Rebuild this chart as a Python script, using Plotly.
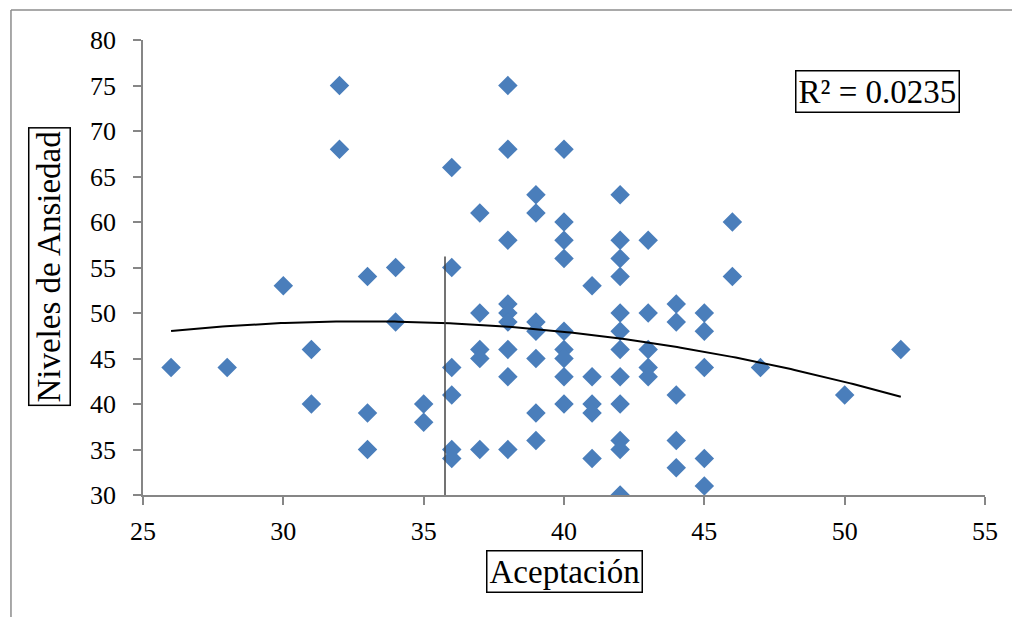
import numpy as np
import plotly.graph_objects as go

# Data
aceptacion = [26, 28, 30, 31, 31, 32, 32, 33, 33, 33, 34, 34, 35, 35,
              36, 36, 36, 36, 36, 36,
              37, 37, 37, 37, 37,
              38, 38, 38, 38, 38, 38, 38, 38, 38,
              39, 39, 39, 39, 39, 39, 39,
              40, 40, 40, 40, 40, 40, 40, 40, 40,
              41, 41, 41, 41, 41,
              42, 42, 42, 42, 42, 42, 42, 42, 42, 42, 42, 42,
              43, 43, 43, 43, 43,
              44, 44, 44, 44, 44,
              45, 45, 45, 45, 45,
              46, 46, 47, 50, 52]
ansiedad = [44, 44, 53, 46, 40, 75, 68, 54, 39, 35, 55, 49, 40, 38,
            66, 55, 44, 41, 35, 34,
            61, 50, 46, 45, 35,
            75, 68, 58, 51, 50, 49, 46, 43, 35,
            63, 61, 49, 48, 45, 39, 36,
            68, 60, 58, 56, 48, 46, 45, 43, 40,
            53, 43, 40, 39, 34,
            63, 58, 56, 54, 50, 48, 46, 43, 40, 36, 35, 30,
            58, 50, 46, 44, 43,
            51, 49, 41, 36, 33,
            50, 48, 44, 34, 31,
            60, 54, 44, 41, 46]

r2_text = "R² = 0.0235"
x_title = "Aceptación"
y_title = "Niveles de Ansiedad"
x_ticks = [25, 30, 35, 40, 45, 50, 55]
y_ticks = [30, 35, 40, 45, 50, 55, 60, 65, 70, 75, 80]

# stray vertical line in the reference
vline_x = 35.76
vline_y = [30, 56.2]

# polynomial (order 2) trendline fitted on the data
coef = np.polyfit(aceptacion, ansiedad, 2)
tx = np.linspace(min(aceptacion), max(aceptacion), 200)
ty = np.polyval(coef, tx)

FONT = "Liberation Serif"
AXIS_COLOR = "#868686"

fig = go.Figure()
fig.add_trace(go.Scatter(
    x=aceptacion, y=ansiedad, mode="markers",
    marker=dict(symbol="diamond", size=15, color="#4A7EBB",
                line=dict(width=0)),
    showlegend=False, hoverinfo="x+y"))
fig.add_trace(go.Scatter(
    x=tx, y=ty, mode="lines",
    line=dict(color="black", width=2),
    showlegend=False, hoverinfo="skip"))
fig.add_trace(go.Scatter(
    x=[vline_x, vline_x], y=vline_y, mode="lines",
    line=dict(color="#444444", width=1.5),
    showlegend=False, hoverinfo="skip"))

fig.update_layout(
    width=1020, height=617,
    margin=dict(l=135, r=43, t=32, b=130),
    paper_bgcolor="white", plot_bgcolor="white",
    font=dict(family=FONT, color="black"),
    xaxis=dict(range=[25, 55], tickvals=x_ticks, showgrid=False,
               zeroline=False, showline=True, linecolor=AXIS_COLOR,
               linewidth=1.5, ticks="outside", ticklen=8, tickwidth=1.5,
               tickcolor=AXIS_COLOR, tickfont=dict(size=26, family=FONT),
               ticklabelstandoff=4),
    yaxis=dict(range=[30, 80], tickvals=y_ticks, showgrid=False,
               zeroline=False, showline=True, linecolor=AXIS_COLOR,
               linewidth=1.5, ticks="outside", ticklen=8, tickwidth=1.5,
               tickcolor=AXIS_COLOR, tickfont=dict(size=26, family=FONT),
               ticklabelstandoff=12),
    annotations=[
        dict(text=r2_text, xref="paper", yref="paper", x=0.872, y=0.886,
             showarrow=False, font=dict(size=33, family=FONT),
             bordercolor="black", borderwidth=1.5, borderpad=2,
             xanchor="center", yanchor="middle"),
        dict(text=x_title, xref="paper", yref="paper", x=0.5, y=-0.169,
             showarrow=False, font=dict(size=33, family=FONT),
             bordercolor="black", borderwidth=1.5, borderpad=2,
             xanchor="center", yanchor="middle"),
        dict(text=y_title, xref="paper", yref="paper", x=-0.1116, y=0.501,
             showarrow=False, textangle=-90, font=dict(size=33, family=FONT),
             bordercolor="black", borderwidth=1.5, borderpad=2,
             xanchor="center", yanchor="middle"),
    ],
    shapes=[
        dict(type="line", xref="paper", yref="paper",
             x0=-0.1568, x1=-0.1568, y0=1.066, y1=-0.3,
             line=dict(color="#8C8C8C", width=1.5)),
        dict(type="line", xref="paper", yref="paper",
             x0=-0.1568, x1=1.1, y0=1.066, y1=1.066,
             line=dict(color="#8C8C8C", width=1.5)),
    ],
)

fig.write_html("out.html")
